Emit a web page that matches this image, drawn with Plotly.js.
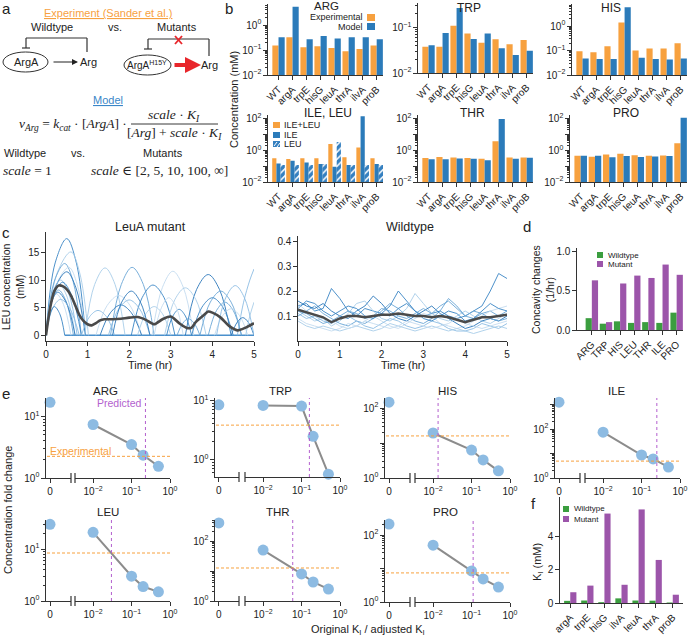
<!DOCTYPE html>
<html>
<head>
<meta charset="utf-8">
<script src="https://cdn.plot.ly/plotly-3.0.1.min.js"></script>
<style>body{margin:0;background:#fff}#fig{width:688px;height:639px}</style>
</head>
<body>
<div id="fig"></div>
<script>
const W = 688, H = 639;
const ORANGE = '#f7a13f', BLUE = '#2b7bba', GREEN = '#3b9e3f', PURPLE = '#9c55aa';
const DOT_BLUE = '#8dbbe2', PRED = '#b35fce';

// ---- b: concentrations (mM) ----
const strains = ['WT', 'argA', 'trpE', 'hisG', 'leuA', 'thrA', 'ilvA', 'proB'];
const argExp = [0.15, 0.32, 0.13, 0.14, 0.12, 0.09, 0.11, 0.15];
const argModel = [0.32, 5.4, 0.27, 0.36, 0.29, 0.32, 0.32, 0.27];
const trpExp = [0.038, 0.038, 0.11, 0.074, 0.046, 0.055, 0.043, 0.053];
const trpModel = [0.041, 0.076, 0.27, 0.056, 0.074, 0.035, 0.025, 0.031];
const hisExp = [0.094, 0.085, 0.15, 1.4, 0.1, 0.12, 0.12, 0.2];
const hisModel = [0.047, 0.045, 0.045, 5.8, 0.051, 0.045, 0.043, 0.047];
const ileLeuExp = [0.32, 0.29, 0.32, 0.32, 2.6, 0.37, 1.55, 0.32];
const ileModel = [0.15, 0.22, 0.17, 0.14, 0.093, 0.12, 150, 0.14];
const leuModel = [0.12, 0.12, 0.12, 0.14, 3.5, 0.12, 0.12, 0.12];
const thrExp = [0.33, 0.38, 0.36, 0.33, 0.30, 3.9, 0.36, 0.36];
const thrModel = [0.28, 0.28, 0.31, 0.30, 0.24, 100, 0.30, 0.34];
const proExp = [0.46, 0.40, 0.55, 0.63, 0.50, 0.46, 0.48, 2.9];
const proModel = [0.46, 0.46, 0.37, 0.44, 0.38, 0.42, 0.44, 120];

// ---- c: LEU time courses ----
const mutMeanT = [0,0.1,0.2,0.3,0.4,0.5,0.6,0.7,0.8,0.9,1.0,1.1,1.2,1.3,1.4,1.6,1.8,2.0,2.2,2.4,2.6,2.8,3.0,3.2,3.4,3.5,3.6,3.8,3.9,4.0,4.2,4.4,4.6,4.8,5.0];
const mutMean = [0,5,8,9,8.9,8.3,7.2,5.5,3.7,2.6,2.0,1.8,2.2,2.7,2.9,2.9,3.0,3.2,3.3,2.8,2.0,2.9,3.4,2.2,1.3,1.4,2.4,3.7,4.3,4.1,3.2,1.7,0.9,1.4,2.2];
const mutArcs = [
  [[0,0],[0.22,13.1],[0.5,17.5],[0.73,13.1],[0.95,0]],
  [[0,0],[0.27,11.3],[0.6,15.1],[0.81,11.3],[1.02,0]],
  [[0,0],[0.2,9.8],[0.45,13],[0.65,9.8],[0.85,0]],
  [[0,0],[0.25,9.2],[0.55,12.3],[0.75,9.2],[0.95,0]],
  [[0,0],[0.22,8.6],[0.5,11.5],[0.72,8.6],[0.95,0]],
  [[0,0],[0.15,7.5],[0.35,10],[0.55,7.5],[0.75,0]],
  [[0,0],[0.18,7.2],[0.4,9.6],[0.62,7.2],[0.85,0]],
  [[0,0],[0.14,6.9],[0.32,9.2],[0.51,6.9],[0.7,0]],
  [[0,0],[0.13,6.2],[0.3,8.2],[0.48,6.2],[0.66,0]],
  [[0,0],[0.12,5.6],[0.25,7.5],[0.42,5.6],[0.6,0]],
  [[0,0],[0.13,5.9],[0.28,7.8],[0.49,5.9],[0.7,0]],
  [[0,0],[0.16,4.9],[0.35,6.5],[0.57,4.9],[0.8,0]],
  [[0,0],[0.1,3.9],[0.2,5.2],[0.33,3.9],[0.45,0]],
  [[0.93,0],[1.17,9.2],[1.42,12.2],[1.66,9.2],[1.9,0]],
  [[1.55,0],[1.81,9.2],[2.07,12.3],[2.34,9.2],[2.6,0]],
  [[2.55,0],[2.8,8.7],[3.05,11.6],[3.3,8.7],[3.55,0]],
  [[3.35,0],[3.62,8.3],[3.9,11],[4.17,8.3],[4.45,0]],
  [[4.6,0],[4.75,6],[4.9,10],[5.0,12]],
  [[2.05,0],[2.31,6.8],[2.57,9.1],[2.84,6.8],[3.1,0]],
  [[2.85,0],[3.1,6.5],[3.35,8.6],[3.6,6.5],[3.85,0]],
  [[3.7,0],[3.95,6],[4.2,8],[4.45,6],[4.7,0]],
  [[1.2,0],[1.47,5.4],[1.75,7.2],[2.02,5.4],[2.3,0]],
  [[1.3,0],[1.55,4.1],[1.8,5.5],[2.05,4.1],[2.3,0]],
  [[1.5,0],[1.75,4.8],[2.0,6.4],[2.25,4.8],[2.5,0]],
  [[3.5,0],[3.75,5.1],[4.0,6.8],[4.25,5.1],[4.5,0]],
  [[2.2,0],[2.4,3.9],[2.6,5.2],[2.8,3.9],[3.0,0]],
  [[3.9,0],[4.1,4.5],[4.3,6],[4.5,4.5],[4.7,0]],
  [[4.05,0],[4.25,3.6],[4.45,4.8],[4.65,3.6],[4.85,0]],
  [[4.45,0],[4.6,2.4],[4.73,3.2],[4.86,2.4],[5.0,0]],
  [[0.85,0],[1.05,3.4],[1.25,4.5],[1.45,3.4],[1.65,0]],
  [[2.9,0],[3.05,3.5],[3.2,4.7],[3.35,3.5],[3.5,0]],
  [[4.8,0],[4.9,3.5],[5.0,6]],
  [[3.15,0],[3.29,2.2],[3.42,3],[3.56,2.2],[3.7,0]],
  [[2.6,0],[2.78,5.1],[2.95,6.8],[3.13,5.1],[3.3,0]],
  [[1.6,0],[1.82,6],[2.05,8],[2.27,6],[2.5,0]],
  [[4.1,0],[4.32,6.8],[4.55,9],[4.77,6.8],[5.0,0]]
];
const mutBaseT = [0.45, 5];
const mutBaseY = [0, 0];

const wtT = [0,0.2,0.4,0.6,0.8,1.0,1.2,1.4,1.6,1.8,2.0,2.2,2.4,2.6,2.8,3.0,3.2,3.4,3.6,3.8,4.0,4.2,4.4,4.6,4.8,5.0];
const wtRuns = [
  [0.14,0.15,0.12,0.13,0.21,0.17,0.12,0.10,0.13,0.12,0.11,0.14,0.20,0.16,0.12,0.10,0.11,0.12,0.10,0.09,0.10,0.12,0.14,0.20,0.27,0.25],
  [0.12,0.10,0.08,0.09,0.06,0.08,0.11,0.15,0.16,0.12,0.09,0.08,0.10,0.13,0.19,0.15,0.11,0.09,0.08,0.10,0.12,0.10,0.08,0.07,0.09,0.11],
  [0.10,0.12,0.14,0.11,0.09,0.07,0.06,0.08,0.07,0.09,0.12,0.15,0.13,0.10,0.08,0.07,0.09,0.12,0.17,0.14,0.10,0.09,0.11,0.12,0.10,0.12],
  [0.09,0.07,0.06,0.05,0.04,0.05,0.07,0.06,0.08,0.10,0.08,0.06,0.05,0.07,0.09,0.11,0.10,0.07,0.06,0.05,0.06,0.08,0.10,0.12,0.13,0.14],
  [0.16,0.14,0.13,0.15,0.12,0.10,0.09,0.12,0.14,0.18,0.15,0.11,0.09,0.08,0.10,0.12,0.14,0.11,0.09,0.07,0.05,0.06,0.08,0.09,0.08,0.10],
  [0.11,0.09,0.10,0.08,0.07,0.09,0.10,0.08,0.06,0.05,0.07,0.09,0.08,0.06,0.05,0.06,0.08,0.07,0.05,0.04,0.04,0.05,0.07,0.06,0.05,0.07],
  [0.13,0.16,0.15,0.12,0.10,0.12,0.14,0.13,0.10,0.09,0.11,0.10,0.13,0.15,0.12,0.09,0.08,0.10,0.12,0.11,0.08,0.09,0.12,0.15,0.13,0.12],
  [0.08,0.06,0.05,0.06,0.05,0.04,0.05,0.06,0.05,0.04,0.05,0.07,0.06,0.05,0.04,0.05,0.06,0.05,0.04,0.05,0.04,0.03,0.04,0.05,0.06,0.05],
  [0.12,0.11,0.09,0.07,0.08,0.10,0.12,0.11,0.09,0.10,0.13,0.12,0.10,0.09,0.11,0.13,0.11,0.14,0.16,0.13,0.10,0.12,0.11,0.09,0.08,0.09],
  [0.15,0.12,0.10,0.09,0.08,0.06,0.05,0.06,0.08,0.07,0.06,0.05,0.06,0.08,0.07,0.06,0.05,0.06,0.07,0.09,0.07,0.06,0.05,0.06,0.07,0.08]
];
const wtMean = [0.125,0.115,0.105,0.095,0.075,0.09,0.1,0.1,0.095,0.1,0.105,0.105,0.11,0.105,0.1,0.1,0.095,0.1,0.095,0.085,0.075,0.085,0.095,0.095,0.1,0.105];

// ---- d: concavity changes (1/hr) ----
const aminoAcids = ['ARG', 'TRP', 'HIS', 'LEU', 'THR', 'ILE', 'PRO'];
const concWT = [0.15, 0.08, 0.11, 0.09, 0.10, 0.09, 0.22];
const concMut = [0.63, 0.10, 0.59, 0.69, 0.66, 0.83, 0.70];

// ---- e: fold change vs KI ratio ----
const kiRatio = [0.01, 0.1, 0.2, 0.5];
const eNames = ['ARG', 'TRP', 'HIS', 'ILE', 'LEU', 'THR', 'PRO'];
const argFold = [7.4, 3.5, 2.35, 1.55];
const trpFold = [8.2, 8.0, 2.45, 0.56];
const hisFold = [19.4, 6.3, 3.3, 1.6];
const ileFold = [75, 8.7, 6.0, 2.8];
const leuFold = [21, 3.0, 1.9, 1.5];
const thrFold = [50, 8.0, 4.3, 2.5];
const proFold = [50, 8.5, 4.9, 2.8];
const zeroFold = [17, 8.4, 148, 1260, 30, 400, 213];
const expFold = [2.25, 3.8, 16, 4.9, 8.4, 12.6, 7.4];
const predRatio = [0.23, 0.16, 0.0135, 0.25, 0.03, 0.059, 0.11];

// ---- f: KI (mM) ----
const enzymes = ['argA', 'trpE', 'hisG', 'ilvA', 'leuA', 'thrA', 'proB'];
const kiWT = [0.13, 0.15, 0.05, 0.28, 0.15, 0.14, 0.03];
const kiMut = [0.65, 1.05, 5.4, 1.1, 5.65, 2.6, 0.5];

// ================= layout helpers =================
const data = [];
const layout = {
  width: W, height: H, margin: {l: 0, r: 0, t: 0, b: 0},
  paper_bgcolor: '#fff', plot_bgcolor: 'rgba(0,0,0,0)',
  showlegend: false, barmode: 'group',
  font: {family: 'Liberation Sans, Arial, sans-serif', size: 9.5, color: '#222'},
  shapes: [], annotations: []
};
let nx = 0, ny = 0;
const sfx = n => (n === 1 ? '' : String(n));
const base = () => ({showline: true, linecolor: '#333', linewidth: 1.2, ticks: 'outside', ticklen: 3.5,
  tickwidth: 1, tickcolor: '#333', showgrid: false, zeroline: false, fixedrange: true, tickfont: {size: 10}});

function addX(x0, x1, yName, opt) {
  nx++;
  layout['xaxis' + sfx(nx)] = Object.assign(base(), {domain: [x0 / W, x1 / W], anchor: yName}, opt);
  return 'x' + sfx(nx);
}
function addY(top, bot, xName, opt) {
  ny++;
  layout['yaxis' + sfx(ny)] = Object.assign(base(), {domain: [1 - bot / H, 1 - top / H], anchor: xName}, opt);
  return 'y' + sfx(ny);
}
function pair(x0, x1, top, bot, xopt, yopt) {
  const yName = 'y' + sfx(ny + 1);
  const xName = addX(x0, x1, yName, xopt);
  addY(top, bot, xName, yopt);
  return {x: xName, y: yName};
}
const sup = p => '10<sup>' + (p < 0 ? '\u2212' + (-p) : p) + '</sup>';
const minorVals = [];
for (let p = -3; p < 4; p++) for (let m = 2; m < 10; m++) minorVals.push(m * Math.pow(10, p));
function logAxis(range, pows, labeled) {
  return {type: 'log', range: range, tickmode: 'array',
    tickvals: pows.map(p => Math.pow(10, p)),
    ticktext: pows.map(p => (labeled.includes(p) ? sup(p) : '')),
    minor: {tickmode: 'array', tickvals: minorVals, ticks: 'outside', ticklen: 2, tickcolor: '#333'}};
}
function txt(x, y, text, opt) {
  layout.annotations.push(Object.assign({xref: 'paper', yref: 'paper', x: x / W, y: 1 - y / H, text: text,
    showarrow: false, xanchor: 'center', yanchor: 'middle', font: {size: 11}}, opt));
}
function seg(x0, y0, x1, y1, color, width, dash) {
  layout.shapes.push({type: 'line', xref: 'paper', yref: 'paper', x0: x0 / W, x1: x1 / W,
    y0: 1 - y0 / H, y1: 1 - y1 / H, line: {color: color, width: width || 1, dash: dash || 'solid'}});
}
function box(x0, y0, x1, y1, color, kind) {
  layout.shapes.push({type: kind || 'rect', xref: 'paper', yref: 'paper', x0: x0 / W, x1: x1 / W,
    y0: 1 - y1 / H, y1: 1 - y0 / H, fillcolor: kind ? 'rgba(0,0,0,0)' : color,
    line: {color: kind ? '#333' : color, width: kind ? 1 : 0}});
}

// ================= panel a =================
txt(6, 9, 'a', {font: {size: 15}});
txt(108, 13, '<u>Experiment (Sander et al.)</u>', {font: {size: 11, color: ORANGE}});
txt(52, 27, 'Wildtype'); txt(115, 27, 'vs.'); txt(177, 27, 'Mutants');
box(3, 52, 48, 72, null, 'circle');
txt(26, 62, 'ArgA');
layout.annotations.push({xref: 'paper', yref: 'paper', x: 78 / W, y: 1 - 62 / H, ax: -26, ay: 0, text: '',
  showarrow: true, arrowhead: 2, arrowsize: 1, arrowwidth: 1.2, arrowcolor: '#222'});
txt(88, 62, 'Arg');
seg(87, 52, 87, 38, '#333', 1.2); seg(87, 38, 26, 38, '#333', 1.2); seg(26, 38, 26, 48, '#333', 1.2);
seg(22, 48, 30, 48, '#333', 1.2);
box(124, 55, 171, 75, null, 'circle');
txt(147, 65, 'ArgA<sup>H15Y</sup>', {font: {size: 10}});
layout.annotations.push({xref: 'paper', yref: 'paper', x: 201 / W, y: 1 - 65 / H, ax: -28, ay: 0, text: '',
  showarrow: true, arrowhead: 2, arrowsize: 0.8, arrowwidth: 4, arrowcolor: '#e8262b'});
txt(209, 65, 'Arg');
seg(209, 56, 209, 39, '#333', 1.2); seg(209, 39, 148, 39, '#333', 1.2); seg(148, 39, 148, 49, '#333', 1.2);
seg(144, 49, 152, 49, '#333', 1.2);
seg(175, 36, 182, 44, '#e8262b', 1.8); seg(182, 36, 175, 44, '#e8262b', 1.8);
txt(108, 100, '<u>Model</u>', {font: {size: 11, color: '#3a86c8'}});
const serif = {family: 'Liberation Serif, DejaVu Serif, serif', size: 13.5, color: '#222'};
txt(129, 124, '<i>v<sub>Arg</sub></i> = <i>k<sub>cat</sub></i> · [<i>ArgA</i>] ·', {xanchor: 'right', font: serif});
txt(174, 116, '<i>scale</i> · <i>K<sub>I</sub></i>', {font: serif});
seg(131, 124, 218, 124, '#222', 0.9);
txt(174, 133, '[<i>Arg</i>] + <i>scale</i> · <i>K<sub>I</sub></i>', {font: serif});
txt(25, 153, 'Wildtype'); txt(78, 153, 'vs.'); txt(163, 153, 'Mutants');
txt(27, 170, '<i>scale</i> = 1', {font: serif});
txt(159, 170, '<i>scale</i> ∈ [2, 5, 10, 100, ∞]', {font: serif});

// ================= panel b =================
txt(229, 9, 'b', {font: {size: 15}});
const bGeo = [[268, 383, 4, 75], [418, 533, 3, 73], [572, 687, 4, 75],
              [268, 383, 115, 182], [418, 533, 115, 182], [570, 687, 115, 182]];
const bTitles = [['ARG', 326, 6], ['TRP', 469, 8], ['HIS', 611, 8],
                 ['ILE, LEU', 328, 113], ['THR', 472, 113], ['PRO', 626, 113]];
const bY = [logAxis([-2, 0.84], [-2, -1, 0], [-2, -1, 0]),
            logAxis([-2, -0.46], [-2, -1], [-2, -1]),
            logAxis([-2, 0.9], [-2, -1, 0], [-2, -1, 0]),
            logAxis([-2, 2.25], [-2, -1, 0, 1, 2], [-2, 0, 2]),
            logAxis([-2, 2.25], [-2, -1, 0, 1, 2], [-2, 0, 2]),
            logAxis([-2, 2.25], [-2, -1, 0, 1, 2], [-2, 0, 2])];
const bSeries = [[argExp, argModel], [trpExp, trpModel], [hisExp, hisModel],
                 [ileLeuExp, ileModel, leuModel], [thrExp, thrModel], [proExp, proModel]];
bGeo.forEach((g, i) => {
  const ax = pair(g[0], g[1], g[2], g[3], {type: 'category', range: [-0.75, 7.45], tickangle: -45}, bY[i]);
  const s = bSeries[i];
  const w = s.length === 3 ? 0.3 : 0.44;
  s.forEach((vals, k) => {
    const tr = {type: 'bar', x: strains, y: vals, xaxis: ax.x, yaxis: ax.y, width: w,
      offset: -w * s.length / 2 + k * w, marker: {color: k === 0 ? ORANGE : BLUE, line: {width: 0}}};
    if (k === 2) tr.marker = {color: '#4a90cc', line: {width: 0},
      pattern: {shape: '/', fgcolor: '#ffffff', bgcolor: '#3580c0', size: 5, solidity: 0.3}};
    data.push(tr);
  });
  txt(bTitles[i][1], bTitles[i][2], bTitles[i][0], {font: {size: i === 0 ? 11.5 : 12}});
});
txt(234, 100, 'Concentration (mM)', {textangle: -90, font: {size: 11}});
// legends
txt(365, 17.5, 'Experimental', {xanchor: 'right', font: {size: 9}});
txt(365, 26.5, 'Model', {xanchor: 'right', font: {size: 9}});
box(367, 14, 375, 21, ORANGE); box(367, 23, 375, 30, BLUE);
box(273, 122, 280, 128, ORANGE); box(273, 132, 280, 138, BLUE); box(273, 141, 280, 147, '#3580c0');
seg(274, 146, 277, 142, '#fff', 1); seg(277, 147, 280, 143, '#fff', 1);
txt(282, 125, 'ILE+LEU', {xanchor: 'left', font: {size: 9}});
txt(282, 135, 'ILE', {xanchor: 'left', font: {size: 9}});
txt(282, 144, 'LEU', {xanchor: 'left', font: {size: 9}});

// ================= panel c =================
txt(6, 232, 'c', {font: {size: 15}});
const blues = ['#3a85c4', '#a9cde9', '#6aa6d6', '#c4dcf0', '#2c78ba', '#8dbde3'];
const cm = pair(46, 254, 232, 341, {range: [0, 5], tickvals: [0, 1, 2, 3, 4, 5]},
                {range: [-1.03, 18.7], tickvals: [0, 5, 10, 15]});
data.push({type: 'scatter', mode: 'lines', x: mutBaseT, y: mutBaseY, xaxis: cm.x, yaxis: cm.y,
  line: {color: '#4a90cc', width: 1.6}, cliponaxis: false});
mutArcs.forEach((arc, i) => {
  data.push({type: 'scatter', mode: 'lines', x: arc.map(p => p[0]), y: arc.map(p => p[1]),
    xaxis: cm.x, yaxis: cm.y, opacity: 0.9,
    line: {color: blues[i % blues.length], width: 1, shape: 'spline', smoothing: 1}});
});
data.push({type: 'scatter', mode: 'lines', x: mutMeanT, y: mutMean, xaxis: cm.x, yaxis: cm.y,
  line: {color: '#4a4a4a', width: 2.6, shape: 'spline', smoothing: 0.8}});
txt(150, 227, 'LeuA mutant', {font: {size: 12.5}});
txt(150, 365, 'Time (hr)');
txt(13, 287, 'LEU concentration<br>(mM)', {textangle: -90, font: {size: 10.5}});

const cw = pair(298, 507, 236, 341, {range: [0, 5], tickvals: [0, 1, 2, 3, 4, 5]},
                {range: [0, 0.42], tickvals: [0.1, 0.2, 0.3, 0.4]});
wtRuns.forEach((run, i) => {
  data.push({type: 'scatter', mode: 'lines', x: wtT, y: run, xaxis: cw.x, yaxis: cw.y, opacity: 0.9,
    line: {color: blues[i % blues.length], width: 1}});
});
data.push({type: 'scatter', mode: 'lines', x: wtT, y: wtMean, xaxis: cw.x, yaxis: cw.y,
  line: {color: '#4a4a4a', width: 2.4}});
txt(410, 227, 'Wildtype', {font: {size: 12.5}});
txt(403, 365, 'Time (hr)');

// ================= panel d =================
txt(527, 226, 'd', {font: {size: 15}});
const dd = pair(577, 683, 248, 330, {type: 'category', range: [-1.05, 6.45], tickangle: -45},
                {range: [0, 1.04], tickvals: [0, 0.5, 1], tickformat: '.1f'});
data.push({type: 'bar', x: aminoAcids, y: concWT, xaxis: dd.x, yaxis: dd.y, width: 0.44, offset: -0.44,
  marker: {color: GREEN}});
data.push({type: 'bar', x: aminoAcids, y: concMut, xaxis: dd.x, yaxis: dd.y, width: 0.44, offset: 0,
  marker: {color: PURPLE}});
txt(543, 290, 'Concavity changes<br>(1/hr)', {textangle: -90, font: {size: 10.5}});
box(597, 252, 603, 258, GREEN); box(597, 261, 603, 267, PURPLE);
txt(606, 255, 'Wildtype', {xanchor: 'left', font: {size: 8}});
txt(606, 264, 'Mutant', {xanchor: 'left', font: {size: 8}});

// ================= panel e =================
txt(6, 393, 'e', {font: {size: 15}});
const eFolds = [argFold, trpFold, hisFold, ileFold, leuFold, thrFold, proFold];
const eX = [[46, 71, 75, 170], [215, 239, 245, 340], [385, 410, 415, 510], [555, 580, 585, 680],
            [46, 71, 75, 170], [215, 239, 245, 340], [385, 410, 415, 510]];
const eY = [[398, 478], [398, 477], [398, 478], [398, 478], [520, 601], [520, 601], [520, 602]];
const eYr = [[0, 1.3], [-0.3, 1.04], [0, 2.29], [0, 3.27], [0, 1.56], [0, 2.7], [0, 2.45]];
const eTicks = [[[0, 1], [0, 1]], [[0, 1], [0, 1]], [[0, 1, 2], [0, 2]], [[0, 1, 2, 3], [0, 2]],
                [[0, 1], [0, 1]], [[0, 1, 2], [0, 2]], [[0, 1, 2], [0, 2]]];
const eTitle = [[105, 391], [280, 391], [448, 391], [617, 391], [108, 512], [278, 512], [445, 512]];
eNames.forEach((nm, i) => {
  const g = eX[i], v = eY[i];
  const yName = 'y' + sfx(ny + 1);
  const xz = addX(g[0], g[1], yName, {range: [-0.16, 0.84], tickvals: [0], ticktext: ['0']});
  addY(v[0], v[1], xz, logAxis(eYr[i], eTicks[i][0], eTicks[i][1]));
  const xl = addX(g[2], g[3], yName, {type: 'log', range: [-2.47, 0], tickmode: 'array',
    tickvals: [0.01, 0.1, 1], ticktext: [sup(-2), sup(-1), sup(0)]});
  data.push({type: 'scatter', mode: 'lines', x: kiRatio, y: eFolds[i], xaxis: xl, yaxis: yName,
    line: {color: '#8c8c8c', width: 2}, cliponaxis: false});
  data.push({type: 'scatter', mode: 'markers', x: kiRatio, y: eFolds[i], xaxis: xl, yaxis: yName,
    marker: {color: DOT_BLUE, size: 11}, cliponaxis: false});
  data.push({type: 'scatter', mode: 'markers', x: [0], y: [zeroFold[i]], xaxis: xz, yaxis: yName,
    marker: {color: DOT_BLUE, size: 11}, cliponaxis: false});
  layout.shapes.push({type: 'line', xref: 'paper', x0: (g[0] + 1) / W, x1: g[3] / W, yref: yName,
    y0: expFold[i], y1: expFold[i], line: {color: ORANGE, width: 1, dash: '3px,2px'}});
  layout.shapes.push({type: 'line', xref: xl, x0: predRatio[i], x1: predRatio[i], yref: yName + ' domain',
    y0: 0, y1: 1, line: {color: PRED, width: 1, dash: 'dot'}});
  seg(g[1], v[1] - 5, g[1], v[1] + 5, '#333', 1.2);
  seg(g[2], v[1] - 5, g[2], v[1] + 5, '#333', 1.2);
  txt(eTitle[i][0], eTitle[i][1], nm, {font: {size: 11.5}});
});
txt(144, 403, 'Predicted', {xanchor: 'right', font: {size: 10.5, color: PRED}});
txt(48, 451, 'Experimental', {xanchor: 'left', font: {size: 10.5, color: ORANGE}});
txt(8, 510, 'Concentration fold change', {textangle: -90, font: {size: 11}});
txt(368, 630, 'Original K<sub>I</sub> / adjusted K<sub>I</sub>', {font: {size: 11}});

// ================= panel f =================
txt(533, 504, 'f', {font: {size: 15}});
const ff = pair(560, 683, 497, 603, {type: 'category', range: [-0.6, 6.6], tickangle: -45},
                {range: [0, 6.4], tickvals: [0, 2, 4]});
data.push({type: 'bar', x: enzymes, y: kiWT, xaxis: ff.x, yaxis: ff.y, width: 0.36, offset: -0.36,
  marker: {color: GREEN}});
data.push({type: 'bar', x: enzymes, y: kiMut, xaxis: ff.x, yaxis: ff.y, width: 0.36, offset: 0,
  marker: {color: PURPLE}});
txt(538, 562, 'K<sub>I</sub> (mM)', {textangle: -90, font: {size: 11}});
box(563, 506, 569, 512, GREEN); box(563, 516, 569, 522, PURPLE);
txt(572, 509, 'Wildtype', {xanchor: 'left', font: {size: 8}});
txt(572, 519, 'Mutant', {xanchor: 'left', font: {size: 8}});

Plotly.newPlot('fig', data, layout, {staticPlot: true});
</script>
</body>
</html>
